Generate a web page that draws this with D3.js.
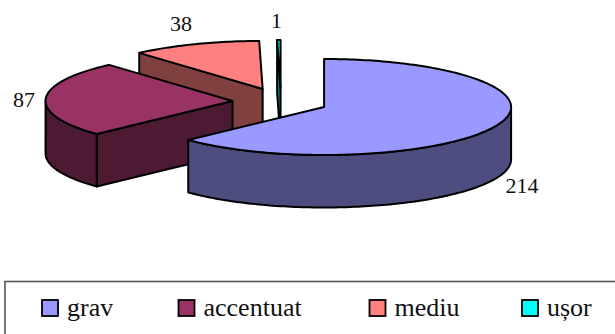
<!DOCTYPE html>
<html>
<head>
<meta charset="utf-8">
<script src="https://cdn.jsdelivr.net/npm/d3@7/dist/d3.min.js"></script>
<style>
html, body { margin: 0; padding: 0; background: #fff; }
svg { display: block; }
text { font-family: "Liberation Serif", serif; fill: #111; }
</style>
</head>
<body>
<svg id="chart" width="615" height="334"></svg>
<script>
const categories = ["grav", "accentuat", "mediu", "ușor"];
const values = [214, 87, 38, 1];
const topColors = ["#9999ff", "#993366", "#ff8080", "#00ffff"];
const wallColors = ["#4d4d80", "#4d1a33", "#804040", "#008080"];

const W = 615, H = 334;
const svg = d3.select("#chart");

// Tilted-pie geometry: ellipse radii, wall height, and how far slices pull out.
const center = { x: 280, y: 101.6 };
const rx = 187, ry = 48, depth = 52.5;
const pullX = 48, pullY = 13.6;
const nudgeX = [0, 0.5, 0, 1];

const slices = d3.pie().sort(null).value(d => d).startAngle(0).endAngle(2 * Math.PI)(values);

// Project a pie angle (0 = top, clockwise) onto the slice's own ellipse.
const apexOf = (d) => {
  const mid = (d.startAngle + d.endAngle) / 2;
  return [
    center.x + pullX * Math.sin(mid) + nudgeX[d.index],
    center.y - pullY * Math.cos(mid)
  ];
};
const rim = (apex, a, dz = 0) => [apex[0] + rx * Math.sin(a), apex[1] - ry * Math.cos(a) + dz];

const line = d3.line();
const arcPoints = (apex, a0, a1, dz = 0) => {
  const n = Math.max(2, Math.ceil(Math.abs(a1 - a0) / 0.02));
  return d3.range(n + 1).map(i => rim(apex, a0 + (a1 - a0) * i / n, dz));
};

const face = (pts, fill) => svg.append("path")
  .attr("d", line(pts) + "Z")
  .attr("fill", fill)
  .attr("stroke", "#000")
  .attr("stroke-width", 2)
  .attr("stroke-linejoin", "round");

// Back-to-front order so nearer slices cover the farther ones.
const order = [2, 3, 1, 0];
order.forEach(i => {
  const d = slices[i];
  const apex = apexOf(d);
  const a0 = d.startAngle, a1 = d.endAngle;

  // Radial cut wall on the slice's clockwise-leading edge, when it faces the viewer.
  if (a0 > Math.PI) {
    const r0 = rim(apex, a0);
    face([r0, apex, [apex[0], apex[1] + depth], [r0[0], r0[1] + depth]], wallColors[i]);
  }

  // Curved outer wall: only the part on the near half of the ellipse shows.
  const w0 = Math.max(a0, Math.PI / 2), w1 = Math.min(a1, 3 * Math.PI / 2);
  if (w1 > w0) {
    face(arcPoints(apex, w0, w1).concat(arcPoints(apex, w1, w0, depth)), wallColors[i]);
  }

  // Top surface.
  face([apex].concat(arcPoints(apex, a0, a1)), topColors[i]);
});

// Value labels beside each slice.
const labelFont = 22;
const labelAnchors = [[522, 193], [24, 107], [181, 30.5], [276.5, 28]];
svg.selectAll("text.value")
  .data(values)
  .join("text")
  .attr("class", "value")
  .attr("x", (d, i) => labelAnchors[i][0])
  .attr("y", (d, i) => labelAnchors[i][1])
  .attr("text-anchor", "middle")
  .attr("font-size", labelFont)
  .text(d => d);

// Legend frame runs off the right and bottom of the canvas.
svg.append("rect")
  .attr("x", 5).attr("y", 281.5)
  .attr("width", W).attr("height", H)
  .attr("fill", "#fff")
  .attr("stroke", "#555")
  .attr("stroke-width", 1.6);

const swatchX = [42, 178.5, 369.5, 522];
const legend = svg.selectAll("g.legend")
  .data(categories)
  .join("g")
  .attr("class", "legend")
  .attr("transform", (d, i) => `translate(${swatchX[i]},300)`);

legend.append("rect")
  .attr("width", 16).attr("height", 16)
  .attr("fill", (d, i) => topColors[i])
  .attr("stroke", "#000")
  .attr("stroke-width", 1.8);

legend.append("text")
  .attr("x", 25).attr("y", 16)
  .attr("font-size", 26)
  .text(d => d);
</script>
</body>
</html>
